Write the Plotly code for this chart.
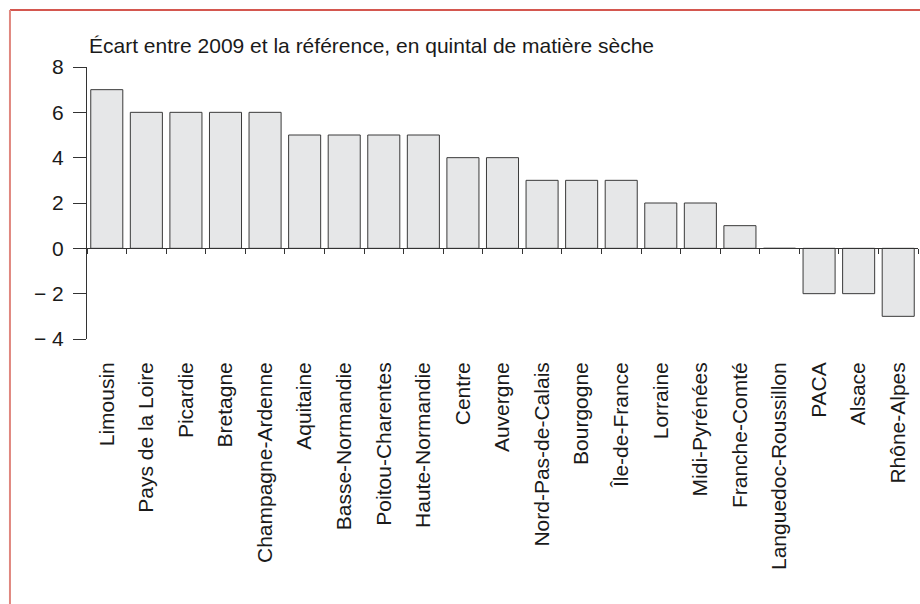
import plotly.graph_objects as go

regions = ["Limousin", "Pays de la Loire", "Picardie", "Bretagne", "Champagne-Ardenne",
           "Aquitaine", "Basse-Normandie", "Poitou-Charentes", "Haute-Normandie", "Centre",
           "Auvergne", "Nord-Pas-de-Calais", "Bourgogne", "Île-de-France", "Lorraine",
           "Midi-Pyrénées", "Franche-Comté", "Languedoc-Roussillon", "PACA", "Alsace",
           "Rhône-Alpes"]
ecart = [7, 6, 6, 6, 6, 5, 5, 5, 5, 4, 4, 3, 3, 3, 2, 2, 1, 0, -2, -2, -3]
y_tickvals = [-4, -2, 0, 2, 4, 6, 8]
y_ticktext = ["\u2212 4", "\u2212 2", "0", "2", "4", "6", "8"]
title_text = "Écart entre 2009 et la référence, en quintal de matière sèche"

n = len(regions)
boundaries = [i - 0.5 for i in range(n + 1)]

FONT = "Liberation Sans, Arial, sans-serif"
INK = "#333333"

fig = go.Figure()
fig.add_trace(go.Bar(
    x=regions, y=ecart,
    marker=dict(color="#e6e7e8", line=dict(color="#3a3a3a", width=1)),
    hoverinfo="x+y", showlegend=False,
))
# helper trace so the zero-line axis (with boundary ticks) is drawn
fig.add_trace(go.Scatter(
    x=list(range(n)), y=ecart, xaxis="x2", mode="markers",
    marker=dict(opacity=0), hoverinfo="skip", showlegend=False,
))

fig.update_layout(
    width=920, height=604,
    margin=dict(l=87, r=2, t=67, b=265),
    paper_bgcolor="white", plot_bgcolor="white",
    font=dict(family=FONT, color="#1a1a1a"),
    bargap=0.19,
    xaxis=dict(
        type="category", range=[-0.5, n - 0.5],
        showline=False, showgrid=False, zeroline=False,
        ticks="", tickangle=-90, ticklabelstandoff=18,
        tickfont=dict(size=21, family=FONT, color="#1a1a1a"),
    ),
    xaxis2=dict(
        overlaying="x", anchor="free", position=1/3, side="bottom",
        range=[-0.5, n - 0.5], showgrid=False, zeroline=False,
        showline=True, linecolor=INK, linewidth=1,
        tickmode="array", tickvals=boundaries, showticklabels=False,
        ticks="outside", ticklen=5, tickcolor=INK, tickwidth=1,
    ),
    yaxis=dict(
        range=[-4, 8], showgrid=False, zeroline=False,
        showline=True, linecolor=INK, linewidth=1,
        tickmode="array", tickvals=y_tickvals, ticktext=y_ticktext,
        ticks="outside", ticklen=13, tickcolor=INK, tickwidth=1,
        ticklabelstandoff=5,
        tickfont=dict(size=21, family=FONT, color="#1a1a1a"),
    ),
    annotations=[dict(
        text=title_text, xref="paper", yref="paper", x=0, y=1,
        xanchor="left", yanchor="bottom", yshift=8, showarrow=False,
        font=dict(size=21, family=FONT, color="#1a1a1a"),
    )],
    shapes=[
        dict(type="line", xref="paper", yref="paper",
             x0=-0.0927, x1=1.2, y0=1.2096, y1=1.2096,
             line=dict(color="#d4574f", width=2)),
        dict(type="line", xref="paper", yref="paper",
             x0=-0.0927, x1=-0.0927, y0=1.2096, y1=-1.5,
             line=dict(color="#e0877f", width=2)),
    ],
)

fig.write_html(
    "out.html",
    config={"displayModeBar": False},
    post_script="document.body.style.margin='0';document.body.style.overflow='hidden';",
)
